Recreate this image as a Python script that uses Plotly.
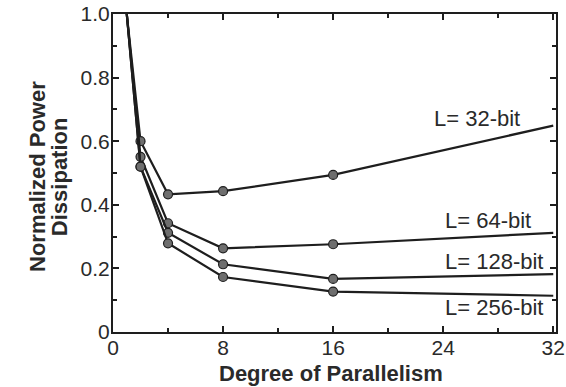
import plotly.graph_objects as go

parallelism = [1, 2, 4, 8, 16, 32]
series_names = ["L= 32-bit", "L= 64-bit", "L= 128-bit", "L= 256-bit"]
power_32 = [1.0, 0.60, 0.433, 0.443, 0.494, 0.649]
power_64 = [1.0, 0.551, 0.342, 0.263, 0.276, 0.312]
power_128 = [1.0, 0.52, 0.312, 0.213, 0.167, 0.182]
power_256 = [1.0, 0.52, 0.279, 0.173, 0.127, 0.114]
label_x = [29.7, 24.0, 24.0, 24.0]
label_y = [0.67, 0.352, 0.222, 0.076]

series = [power_32, power_64, power_128, power_256]
ink = "#1e1e1e"
txt = "#2a2a2a"
font = "Liberation Sans, Arial, sans-serif"

fig = go.Figure()
for vals in series:
    fig.add_trace(go.Scatter(x=parallelism, y=vals, mode="lines",
                             line=dict(color=ink, width=2.2), showlegend=False,
                             hoverinfo="skip"))
    fig.add_trace(go.Scatter(x=parallelism[1:5], y=vals[1:5], mode="markers",
                             marker=dict(size=9, color="#6e6e6e",
                                         line=dict(color=ink, width=1.2)),
                             showlegend=False))

for i, name in enumerate(series_names):
    xanchor = "right" if i == 0 else "left"
    fig.add_annotation(x=label_x[i], y=label_y[i], text=name, showarrow=False,
                       xanchor=xanchor, yanchor="middle",
                       font=dict(family=font, size=22, color=txt))

# axis titles as annotations (y title: two tightly spaced rotated lines)
fig.add_annotation(xref="paper", yref="paper", x=-0.172, y=0.49,
                   text="<b>Normalized Power</b>", textangle=-90, showarrow=False,
                   xanchor="center", yanchor="middle",
                   font=dict(family=font, size=22, color=txt))
fig.add_annotation(xref="paper", yref="paper", x=-0.122, y=0.49,
                   text="<b>Dissipation</b>", textangle=-90, showarrow=False,
                   xanchor="center", yanchor="middle",
                   font=dict(family=font, size=22, color=txt))
fig.add_annotation(xref="paper", yref="paper", x=0.491, y=-0.131,
                   text="<b>Degree of Parallelism</b>", showarrow=False,
                   xanchor="center", yanchor="middle",
                   font=dict(family=font, size=22, color=txt))

axis_common = dict(showline=True, linecolor=ink, linewidth=2, mirror="ticks",
                   ticks="inside", tickcolor=ink, ticklen=6, tickwidth=1.5,
                   showgrid=False, zeroline=False, automargin=False,
                   tickfont=dict(family=font, size=21, color=txt))

fig.update_xaxes(range=[0, 32.2], tickvals=[0, 8, 16, 24, 32],
                 minor=dict(tickvals=[4, 12, 20, 28], ticks="inside", ticklen=4,
                            tickcolor=ink),
                 ticklabelstandoff=-4,
                 **axis_common)
fig.update_yaxes(range=[0, 1.0], tickvals=[0, 0.2, 0.4, 0.6, 0.8, 1.0],
                 ticktext=["0", "0.2", "0.4", "0.6", "0.8", "1.0"],
                 minor=dict(tickvals=[0.1, 0.3, 0.5, 0.7, 0.9], ticks="inside",
                            ticklen=4, tickcolor=ink),
                 ticklabelstandoff=-3,
                 **axis_common)

# size comes from the container div (566x387), which is pinned to the page corner
fig.update_layout(template="none",
                  margin=dict(l=113, r=10, t=14, b=55, autoexpand=False),
                  plot_bgcolor="white", paper_bgcolor="white",
                  font=dict(family=font, color=txt))

fig.write_html("out.html", config={"displayModeBar": False},
               default_width="566px",
               default_height="387px; position:absolute; left:0; top:0")
